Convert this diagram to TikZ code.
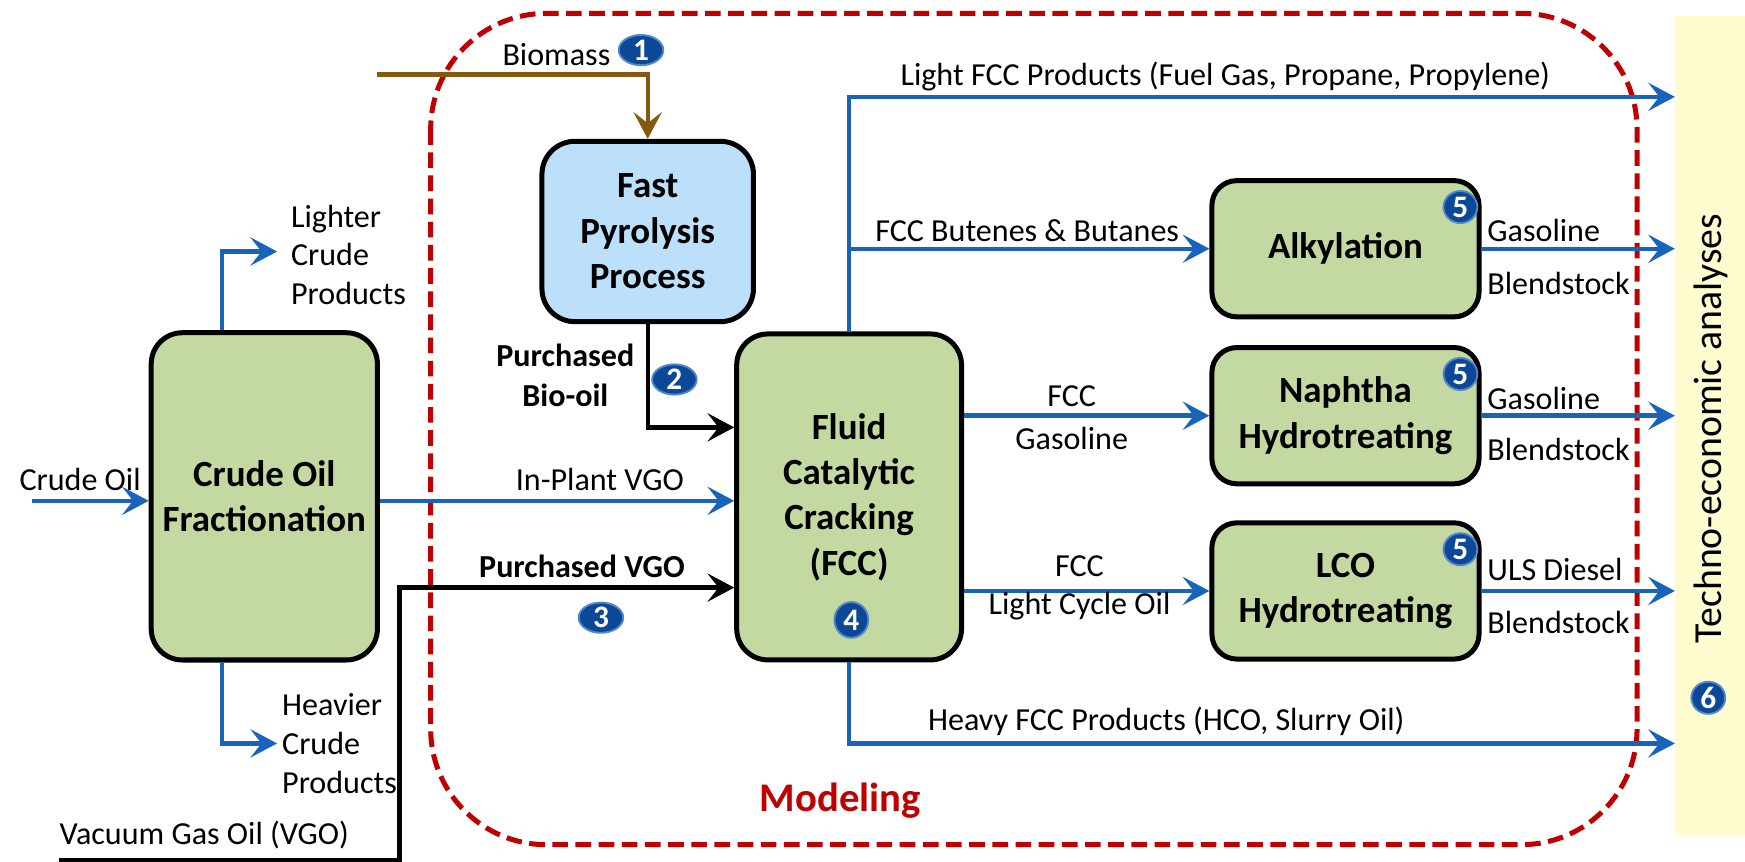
\documentclass[tikz,border=0pt]{standalone}
\usepackage{fontspec}
\setmainfont{Carlito}
\usetikzlibrary{arrows.meta,shapes.geometric,calc,positioning}

\definecolor{flowblue}{RGB}{24,100,188}
\definecolor{unitgreen}{RGB}{196,217,161}
\definecolor{pyroblue}{RGB}{189,224,250}
\definecolor{modelred}{RGB}{192,0,0}
\definecolor{biobrown}{RGB}{135,88,18}
\definecolor{teayellow}{RGB}{255,252,208}
\definecolor{tagblue}{RGB}{12,72,150}
\definecolor{tagrim}{RGB}{80,135,205}

\tikzset{
  unit/.style={draw, line width=1.6pt, fill=unitgreen, rounded corners=0.35cm, align=center,
    inner sep=0pt, font=\fontsize{11.8}{14.5}\selectfont\bfseries},
  smallunit/.style={unit, rounded corners=0.28cm, minimum width=3cm, minimum height=1.53cm},
  lbl/.style={inner sep=0pt, font=\fontsize{10.25}{12.4}\selectfont},
  boldlbl/.style={lbl, font=\fontsize{10.25}{12.8}\selectfont\bfseries},
  tag/.style={ellipse, fill=tagblue, draw=tagrim, line width=0.6pt, text=white, inner sep=0pt,
    font=\fontsize{10}{10}\selectfont\bfseries, minimum width=0.38cm, minimum height=0.36cm},
  wide tag/.style={tag, minimum width=0.5cm, minimum height=0.34cm},
  flow/.style={flowblue, line width=1.4pt, -{Stealth[length=8.5pt, width=9pt, inset=3.5pt]}},
  feed/.style={flow, black},
  biofeed/.style={flow, biobrown}
}

\begin{document}
\begin{tikzpicture}[x=0.0125cm, y=-0.0125cm]
\useasboundingbox (0,0) rectangle (1568,774);

% techno-economic band
\fill[teayellow] (1505,14) rectangle (1568,750);
\node[lbl, rotate=90, font=\fontsize{12.7}{14}\selectfont] (tea) at (1537,385) {Techno-economic analyses};
\node[tag] (t6) at (1535,627) {6};

% modeling boundary
\draw[modelred, line width=1.6pt, dash pattern=on 5pt off 2.4pt, rounded corners=1.3cm]
  (387,12) rectangle (1471,759);
\node[font=\fontsize{13}{13}\selectfont\bfseries, text=modelred] (modeling) at (755,719) {Modeling};

%%%%%%%%%%%%%%%%%%%%%%%%%%%%%%%%%%%%%%%%

\node[unit, minimum width=2.54cm, minimum height=3.675cm] (frac) at (237.5,446) {Crude Oil\\Fractionation};
\node[unit, fill=pyroblue, rounded corners=0.37cm, minimum width=2.375cm, minimum height=2.025cm] (pyro) at (582,208) {Fast\\Pyrolysis\\Process};
\node[unit, minimum width=2.525cm, minimum height=3.66cm] (fcc) at (763,446.5) {Fluid\\Catalytic\\Cracking\\(FCC)};
\node[smallunit] (alky) at (1209,223.5) {Alkylation};
\node[smallunit] (naph) at (1209,373.5) {Naphtha\\Hydrotreating};
\node[smallunit] (lco) at (1209,531) {LCO\\Hydrotreating};

\coordinate (crudein) at (29,450);
\coordinate (lightout) at (249,226);
\coordinate (heavyout) at (249,668);
\coordinate (biosrc) at (339,67);
\coordinate (vgosrc) at (53,773);
\coordinate (vgobend) at (359,773);
\coordinate (vgolevel) at (0,528);
\coordinate (biolevel) at (0,384);
\coordinate (outedge) at (1505,0);
\coordinate (lightlevel) at (0,87);
\coordinate (heavylevel) at (0,668);

% crude side
\draw[flow] (crudein) -- (crudein -| frac.west);
\draw[flow] ($(frac.north)+(-38,0)$) |- (lightout);
\draw[flow] ($(frac.south)+(-38,0)$) |- (heavyout);
\draw[flow] (frac.east |- crudein) -- (fcc.west |- crudein);

% feeds
\draw[biofeed] (biosrc) -| (pyro.north);
\draw[feed] (pyro.south) |- (fcc.west |- biolevel);
\draw[feed] (vgosrc) -- (vgobend) |- (fcc.west |- vgolevel);

% fcc products
\draw[flow] (fcc.north) |- (outedge |- lightlevel);
\draw[flow] (fcc.north |- alky.west) -- (alky.west);
\draw[flow] (fcc.east |- naph.west) -- (naph.west);
\draw[flow] (fcc.east |- lco.west) -- (lco.west);
\draw[flow] (fcc.south) |- (outedge |- heavylevel);
\draw[flow] (alky.east) -- (outedge |- alky.east);
\draw[flow] (naph.east) -- (outedge |- naph.east);
\draw[flow] (lco.east) -- (outedge |- lco.east);

%%%%%%%%%%%%%%%%%%%%%%%%%%%%%%%%%%%%%%%%

\node[lbl] (crudelbl) at (72,431) {Crude Oil};
\node[lbl, anchor=west, align=left] (lighterlbl) at (261,229) {Lighter\\Crude\\Products};
\node[lbl, anchor=west, align=left] (heavierlbl) at (253,668) {Heavier\\Crude\\Products};
\node[lbl] (inplantlbl) at (539,431) {In-Plant VGO};
\node[boldlbl] (pvgolbl) at (523,509) {Purchased VGO};
\node[boldlbl, align=center] (biooillbl) at (508,337) {Purchased\\Bio-oil};
\node[lbl] (biomasslbl) at (500,49) {Biomass};
\node[lbl, anchor=west] (vgolbl) at (53,750) {Vacuum Gas Oil (VGO)};
\node[lbl] (lightfcclbl) at (1101,69) {Light FCC Products (Fuel Gas, Propane, Propylene)};
\node[lbl] (butlbl) at (923,207) {FCC Butenes \& Butanes};
\node[lbl] (gasfcclbl) at (963,356) {FCC};
\node[lbl] (gaslbl) at (963,394) {Gasoline};
\node[lbl] (lcofcclbl) at (970,509) {FCC};
\node[lbl] (lcolbl) at (970,545) {Light Cycle Oil};
\node[lbl] (heavylbl) at (1048,648) {Heavy FCC Products (HCO, Slurry Oil)};
\node[lbl, anchor=west] (alkyup) at (1336,207) {Gasoline};
\node[lbl, anchor=west] (alkydn) at (1336,255) {Blendstock};
\node[lbl, anchor=west] (naphup) at (1336,358) {Gasoline};
\node[lbl, anchor=west] (naphdn) at (1336,404) {Blendstock};
\node[lbl, anchor=west] (lcoup) at (1336,512) {ULS Diesel};
\node[lbl, anchor=west] (lcodn) at (1336,559) {Blendstock};

% numbered tags
\node[wide tag] (t1) at (576,45) {1};
\node[wide tag] (t2) at (606,341) {2};
\node[wide tag] (t3) at (540,555) {3};
\node[tag, minimum height=0.4cm] (t4) at (765,557) {4};
\node[tag] (t5a) at ($(alky.north east)+(-19,26)$) {5};
\node[tag] (t5b) at ($(naph.north east)+(-19,26)$) {5};
\node[tag] (t5c) at ($(lco.north east)+(-19,26)$) {5};

\end{tikzpicture}
\end{document}
